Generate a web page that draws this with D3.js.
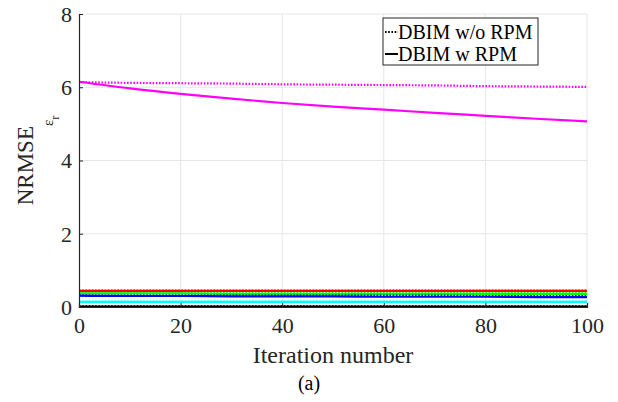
<!DOCTYPE html>
<html>
<head>
<meta charset="utf-8">
<script src="https://cdn.jsdelivr.net/npm/d3@7"></script>
<style>
  body { margin: 0; background: #fff; }
  svg { display: block; font-family: "Liberation Serif", "Times New Roman", serif; }
</style>
</head>
<body>
<div id="chart"></div>
<script>
var iterations = [0, 10, 20, 30, 40, 50, 60, 70, 80, 90, 100];

// DBIM w/o RPM (dotted)
var magentaNoRpm = [6.14, 6.12, 6.11, 6.10, 6.08, 6.07, 6.06, 6.05, 6.03, 6.02, 6.01];
var redNoRpm     = [0.45, 0.45, 0.45, 0.45, 0.45, 0.45, 0.45, 0.45, 0.45, 0.45, 0.45];
var greenNoRpm   = [0.38, 0.38, 0.38, 0.38, 0.38, 0.38, 0.38, 0.38, 0.38, 0.38, 0.38];
var blueNoRpm    = [0.31, 0.31, 0.31, 0.31, 0.31, 0.31, 0.31, 0.31, 0.30, 0.30, 0.30];
var cyanNoRpm    = [0.15, 0.15, 0.15, 0.15, 0.15, 0.15, 0.15, 0.15, 0.15, 0.15, 0.15];
var blackNoRpm   = [0.02, 0.02, 0.02, 0.02, 0.02, 0.02, 0.02, 0.02, 0.02, 0.02, 0.02];

// DBIM w RPM (solid)
var magentaRpm = [6.15, 5.97, 5.82, 5.69, 5.57, 5.47, 5.39, 5.30, 5.22, 5.14, 5.07];
var redRpm     = [0.44, 0.44, 0.44, 0.44, 0.44, 0.44, 0.44, 0.44, 0.44, 0.44, 0.44];
var greenRpm   = [0.37, 0.37, 0.37, 0.36, 0.36, 0.36, 0.36, 0.36, 0.36, 0.36, 0.36];
var blueRpm    = [0.31, 0.30, 0.30, 0.29, 0.29, 0.29, 0.28, 0.28, 0.28, 0.27, 0.27];
var cyanRpm    = [0.14, 0.14, 0.14, 0.14, 0.14, 0.14, 0.14, 0.14, 0.14, 0.14, 0.14];
var blackRpm   = [0.01, 0.01, 0.01, 0.01, 0.01, 0.01, 0.01, 0.01, 0.01, 0.01, 0.01];

var xTicks = [0, 20, 40, 60, 80, 100];
var yTicks = [0, 2, 4, 6, 8];
var legendLabels = ["DBIM w/o RPM", "DBIM w RPM"];

var series = [
  { color: "#ff0000", noRpm: redNoRpm, rpm: redRpm },
  { color: "#00ff00", noRpm: greenNoRpm, rpm: greenRpm },
  { color: "#0000ff", noRpm: blueNoRpm, rpm: blueRpm },
  { color: "#00ffff", noRpm: cyanNoRpm, rpm: cyanRpm },
  { color: "#000000", noRpm: blackNoRpm, rpm: blackRpm },
  { color: "#ff00ff", noRpm: magentaNoRpm, rpm: magentaRpm }
];

var W = 618, H = 402;
var plotLeft = 79, plotRight = 587, plotTop = 14, plotBottom = 307;

var svg = d3.select("#chart").append("svg")
  .attr("width", W)
  .attr("height", H);

var x = d3.scaleLinear().domain([0, 100]).range([plotLeft, plotRight]);
var y = d3.scaleLinear().domain([0, 8]).range([plotBottom, plotTop]);

// grid
svg.append("g").selectAll("line")
  .data(xTicks.slice(1))
  .enter().append("line")
  .attr("x1", function(d) { return x(d); })
  .attr("x2", function(d) { return x(d); })
  .attr("y1", plotTop).attr("y2", plotBottom)
  .style("stroke", "#e6e6e6").style("stroke-width", 1);
svg.append("g").selectAll("line")
  .data(yTicks.slice(1))
  .enter().append("line")
  .attr("x1", plotLeft).attr("x2", plotRight)
  .attr("y1", function(d) { return y(d); })
  .attr("y2", function(d) { return y(d); })
  .style("stroke", "#e6e6e6").style("stroke-width", 1);

// lines
var line = d3.line()
  .x(function(d, i) { return x(iterations[i]); })
  .y(function(d) { return y(d); })
  .curve(d3.curveMonotoneX);

var lines = svg.append("g");
series.forEach(function(s) {
  lines.append("path")
    .attr("d", line(s.rpm))
    .style("fill", "none")
    .style("stroke", s.color)
    .style("stroke-width", 2.2);
  lines.append("path")
    .attr("d", line(s.noRpm))
    .style("fill", "none")
    .style("stroke", s.color)
    .style("stroke-width", 2.2)
    .style("stroke-dasharray", "1.6,1.6");
});

// axes
var xAxis = d3.axisBottom(x).tickValues(xTicks).tickSize(-4).tickPadding(10);
var yAxis = d3.axisLeft(y).tickValues(yTicks).tickSize(-4).tickPadding(7);

var gx = svg.append("g").attr("transform", "translate(0," + plotBottom + ")").call(xAxis);
var gy = svg.append("g").attr("transform", "translate(" + plotLeft + ",0)").call(yAxis);
[gx, gy].forEach(function(g) {
  g.select(".domain").style("stroke", "#262626").style("stroke-width", 1.2);
  g.selectAll(".tick line").style("stroke", "#262626");
  g.selectAll(".tick text")
    .style("font-family", "'Liberation Serif', serif")
    .style("font-size", "22px")
    .style("fill", "#262626");
});
gx.selectAll(".tick text").attr("dy", "0.71em");
gy.selectAll(".tick text").attr("dy", "0.34em");

// axis labels
svg.append("text")
  .attr("x", (plotLeft + plotRight) / 2)
  .attr("y", 363)
  .attr("text-anchor", "middle")
  .style("font-size", "24px")
  .style("fill", "#262626")
  .text("Iteration number");

var ylab = svg.append("text")
  .attr("transform", "translate(33," + ((plotTop + plotBottom) / 2) + ") rotate(-90)")
  .attr("text-anchor", "middle")
  .style("font-size", "23px")
  .style("fill", "#262626");
ylab.append("tspan").text("NRMSE");
ylab.append("tspan").attr("dy", 20).style("font-size", "15px").text("\u03b5");
ylab.append("tspan").attr("dy", 6).style("font-size", "12px").text("r");

svg.append("text")
  .attr("x", W / 2)
  .attr("y", 390)
  .attr("text-anchor", "middle")
  .style("font-size", "20px")
  .style("fill", "#000")
  .text("(a)");

// legend
var legend = svg.append("g").attr("transform", "translate(383,18)");
legend.append("rect")
  .attr("width", 155).attr("height", 47)
  .style("fill", "#fff")
  .style("stroke", "#262626")
  .style("stroke-width", 1);
legendLabels.forEach(function(label, i) {
  var ly = 14 + i * 22;
  legend.append("line")
    .attr("x1", 2).attr("x2", 15)
    .attr("y1", ly).attr("y2", ly)
    .style("stroke", "#000")
    .style("stroke-width", 2)
    .style("stroke-dasharray", i === 0 ? "1.6,1.6" : null);
  legend.append("text")
    .attr("x", 15)
    .attr("y", ly + 7)
    .style("font-size", "20px")
    .style("fill", "#000")
    .text(label);
});
</script>
</body>
</html>
